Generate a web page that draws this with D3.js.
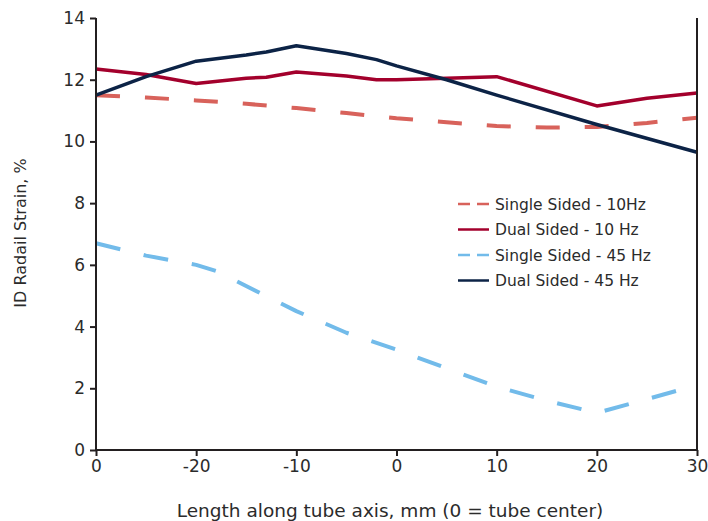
<!DOCTYPE html>
<html><head><meta charset="utf-8">
<script src="https://cdn.jsdelivr.net/npm/d3@7/dist/d3.min.js"></script>
<style>body{margin:0;background:#fff}svg{display:block}</style>
</head><body>
<svg id="c" width="708" height="521"></svg>
<script>
const xTicks = [-30, -20, -10, 0, 10, 20, 30];
const xTickLabels = ["0", "-20", "-10", "0", "10", "20", "30"];
const yTicks = [0, 2, 4, 6, 8, 10, 12, 14];

const single10X = [-30, -25, -20, -15, -10, -5, 0, 5, 10, 15, 20, 25, 30];
const single10Y = [11.5, 11.42, 11.33, 11.22, 11.08, 10.92, 10.75, 10.62, 10.5, 10.45, 10.47, 10.6, 10.77];

const dual10X = [-30, -25, -20, -15, -13, -10, -5, -2, 0, 5, 10, 20, 25, 30];
const dual10Y = [12.35, 12.17, 11.88, 12.05, 12.08, 12.25, 12.12, 12.0, 12.0, 12.05, 12.1, 11.15, 11.4, 11.57];

const single45X = [-30, -25, -20, -18, -10, -5, 0, 5, 10, 15, 20, 25, 30];
const single45Y = [6.7, 6.3, 6.0, 5.8, 4.5, 3.8, 3.25, 2.65, 2.05, 1.6, 1.2, 1.65, 2.1];

const dual45X = [-30, -25, -20, -15, -13, -10, -5, -2, 0, 5, 10, 20, 30];
const dual45Y = [11.5, 12.1, 12.6, 12.8, 12.9, 13.1, 12.85, 12.65, 12.45, 12.0, 11.5, 10.55, 9.65];

const seriesNames = ["Single Sided - 10Hz", "Dual Sided - 10 Hz", "Single Sided - 45 Hz", "Dual Sided - 45 Hz"];

const series = [
  {name: seriesNames[0], xs: single10X, ys: single10Y, color: "#d8625b", dash: "24,25", w: 4},
  {name: seriesNames[1], xs: dual10X, ys: dual10Y, color: "#a3002c", dash: null, w: 3.5},
  {name: seriesNames[2], xs: single45X, ys: single45Y, color: "#72bbea", dash: "25,24", w: 4},
  {name: seriesNames[3], xs: dual45X, ys: dual45Y, color: "#0c2346", dash: null, w: 3.5}
];

(function(){
const svg = d3.select("#c");
const font = "'DejaVu Sans', sans-serif";
const pL = 96, pR = 697, pT = 18, pB = 450;
const x = d3.scaleLinear().domain([-30, 30]).range([pL, pR]);
const y = d3.scaleLinear().domain([0, 14]).range([pB, pT]);
const axisColor = "#231f20";
const textColor = "#2b2b2b";

const line = d3.line().x(d => x(d[0])).y(d => y(d[1]));
series.forEach(s => {
  const pts = s.xs.map((v, i) => [v, s.ys[i]]);
  svg.append("path").datum(pts).attr("d", line)
    .attr("fill", "none").attr("stroke", s.color).attr("stroke-width", s.w)
    .attr("stroke-dasharray", s.dash).attr("stroke-linejoin", "round");
});

const yAxis = d3.axisLeft(y).tickValues(yTicks).tickSize(6).tickPadding(5).tickFormat(d3.format("d"));
const gy = svg.append("g").attr("transform", `translate(${pL},0)`).call(yAxis);
const xAxis = d3.axisBottom(x).tickValues(xTicks).tickSize(6).tickPadding(4).tickFormat((d, i) => xTickLabels[i]);
const gx = svg.append("g").attr("transform", `translate(0,${pB})`).call(xAxis);
[gx, gy].forEach(g => {
  g.select(".domain").attr("stroke", axisColor).attr("stroke-width", 2);
  g.selectAll(".tick line").attr("stroke", axisColor).attr("stroke-width", 2);
  g.selectAll(".tick text").attr("fill", textColor).style("font-family", font).style("font-size", "17px");
});
gy.select(".domain").attr("d", `M0,${pB}V${pT}`);
gx.select(".domain").attr("d", `M${pL},0H${pR}`);
svg.append("line").attr("x1", pR).attr("x2", pR).attr("y1", pT).attr("y2", pB)
  .attr("stroke", axisColor).attr("stroke-width", 2);

svg.append("text").attr("x", 390).attr("y", 517).attr("text-anchor", "middle")
  .style("font-family", font).style("font-size", "18.5px").attr("fill", textColor)
  .text("Length along tube axis, mm (0 = tube center)");
svg.append("text").attr("transform", "translate(26,233) rotate(-90)").attr("text-anchor", "middle")
  .style("font-family", font).style("font-size", "16px").attr("fill", textColor)
  .text("ID Radail Strain, %");

const lg = svg.append("g");
series.forEach((s, i) => {
  const yy = 204 + i * 25.5;
  lg.append("line").attr("x1", 458).attr("x2", 489).attr("y1", yy).attr("y2", yy)
    .attr("stroke", s.color).attr("stroke-width", 2.5)
    .attr("stroke-dasharray", s.dash ? "12,7" : null);
  lg.append("text").attr("x", 495).attr("y", yy + 5.5)
    .style("font-family", font).style("font-size", "15.5px").attr("fill", textColor)
    .text(s.name);
});
})();
</script>
</body></html>
